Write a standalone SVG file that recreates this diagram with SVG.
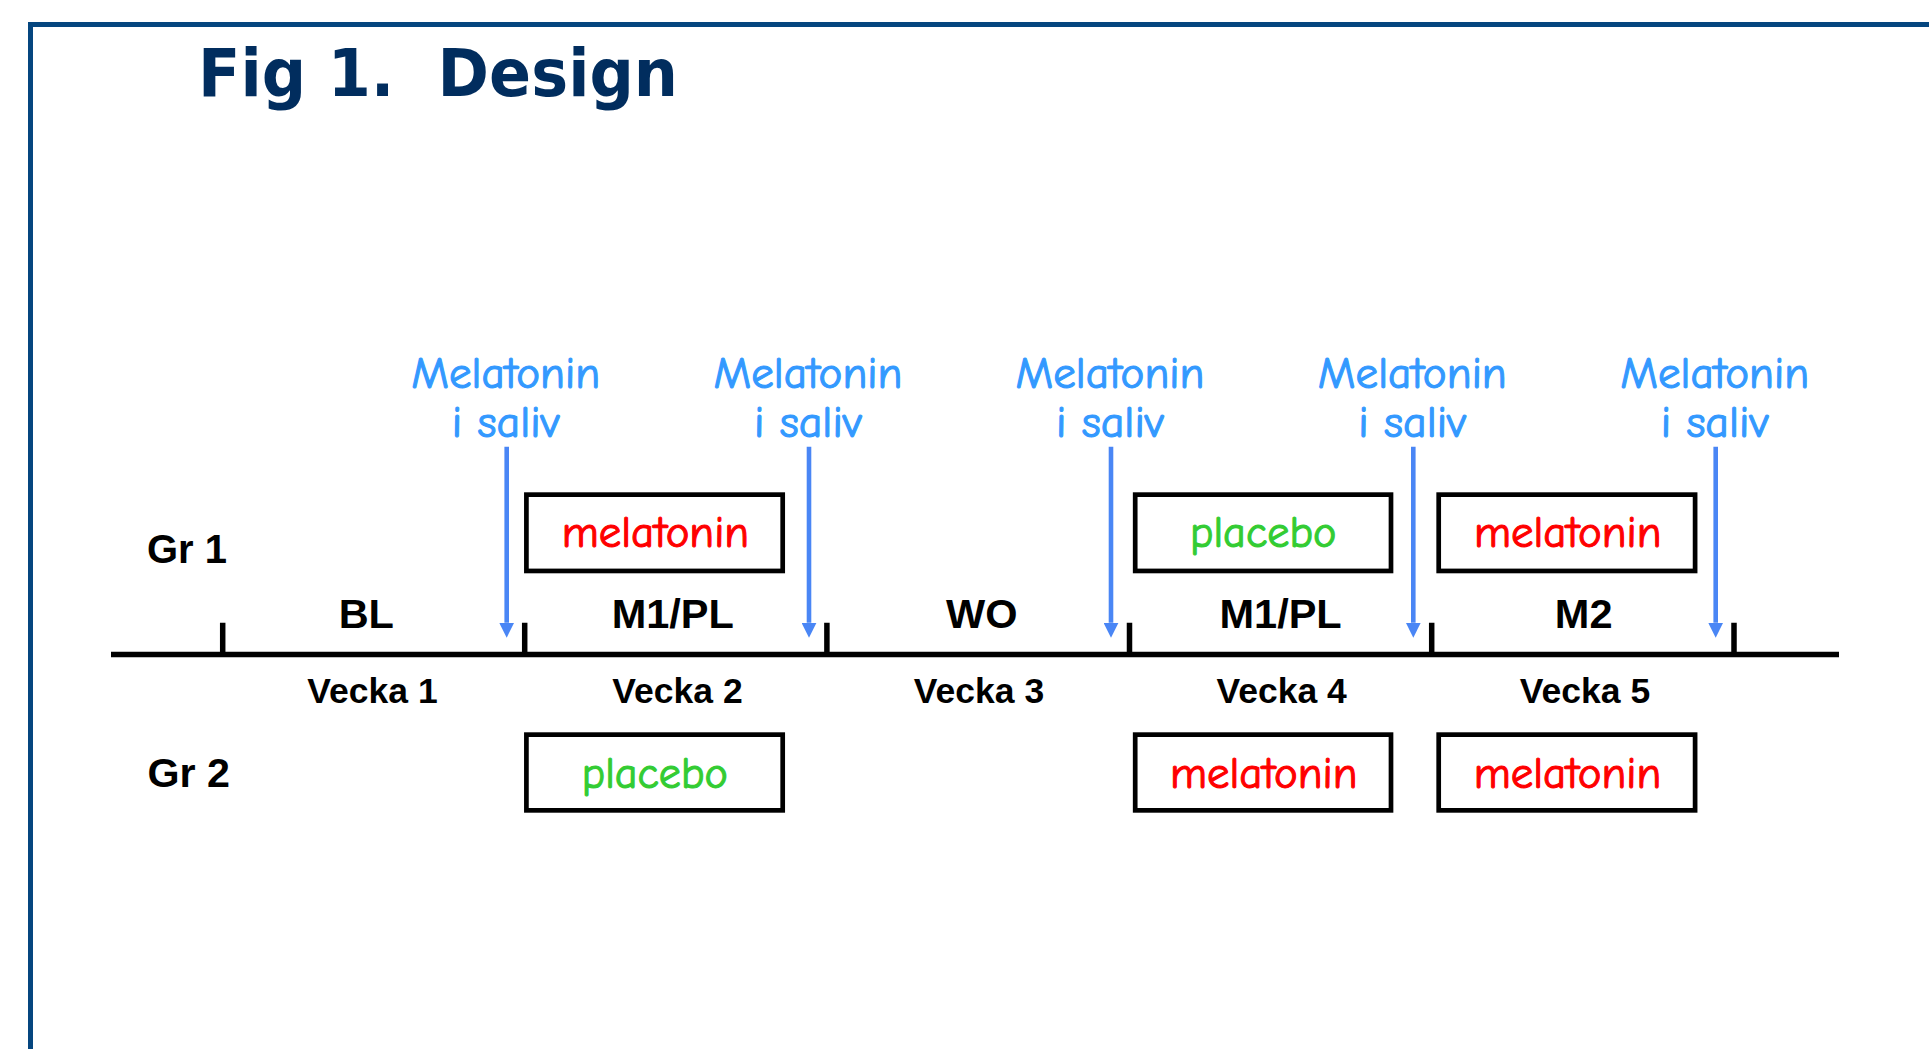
<svg xmlns="http://www.w3.org/2000/svg" width="1929" height="1049" viewBox="0 0 1929 1049">
<defs>
<style>
.title{font-family:"DejaVu Sans","Verdana",sans-serif;font-weight:bold;font-size:65px;fill:#012D5E;white-space:pre}
.grp{font-family:"Liberation Sans",Arial,sans-serif;font-weight:bold;font-size:41px;fill:#000}
.phase{font-family:"Liberation Sans",Arial,sans-serif;font-weight:bold;font-size:41.5px;fill:#000;text-anchor:middle}
.week{font-family:"Liberation Sans",Arial,sans-serif;font-weight:bold;font-size:35.5px;fill:#000;text-anchor:middle}
.hand{font-family:"Comic Sans MS","Comic Neue","Noto Sans",sans-serif;font-size:44px;text-anchor:middle;stroke-width:1.1}
.sal{fill:#3399FF;stroke:#3399FF}
.mel{fill:#FF0000;stroke:#FF0000}
.pla{fill:#33CC33;stroke:#33CC33}
.box{fill:#fff;stroke:#000;stroke-width:4.7}
.arrow{stroke:#4A86F5;stroke-width:4.6;fill:none;marker-end:url(#ah)}
.tick{stroke:#000;stroke-width:5.5;fill:none}
</style>
<marker id="ah" markerUnits="userSpaceOnUse" markerWidth="15" markerHeight="15" refX="0" refY="7.5" orient="auto">
<path d="M0,0 L15,7.5 L0,15 Z" fill="#4A86F5"/>
</marker>
</defs>
<rect width="1929" height="1049" fill="#fff"/>
<path d="M30.5,1060 V24.5 H1940" fill="none" stroke="#05467F" stroke-width="5"/>
<text class="title" x="198" y="96" textLength="480" lengthAdjust="spacingAndGlyphs">Fig 1.  Design</text>

<g id="axis">
<path class="tick" d="M111,654.5 H1839" stroke-width="5.7"/>
<path class="tick" d="M222.7,622.7 V654 M524.7,622.7 V654 M826.9,622.7 V654 M1129.5,622.7 V654 M1431.7,622.7 V654 M1734,622.7 V654"/>
</g>

<g id="group-labels">
<text class="grp" x="147" y="563.3" textLength="80" lengthAdjust="spacingAndGlyphs">Gr 1</text>
<text class="grp" x="147.4" y="787.3" textLength="82.5" lengthAdjust="spacingAndGlyphs">Gr 2</text>
</g>

<g id="phase-labels">
<text class="phase" x="366.3" y="627.5">BL</text>
<text class="phase" x="672.8" y="627.5">M1/PL</text>
<text class="phase" x="981.7" y="627.5">WO</text>
<text class="phase" x="1280.6" y="627.5">M1/PL</text>
<text class="phase" x="1583.7" y="627.5">M2</text>
</g>

<g id="week-labels">
<text class="week" x="372.5" y="702.7">Vecka 1</text>
<text class="week" x="677.5" y="702.7">Vecka 2</text>
<text class="week" x="979" y="702.7">Vecka 3</text>
<text class="week" x="1281.7" y="702.7">Vecka 4</text>
<text class="week" x="1585" y="702.7">Vecka 5</text>
</g>

<g id="saliva-labels">
<g id="sal1"><text class="hand sal" x="505.7" y="387.5" textLength="189" lengthAdjust="spacingAndGlyphs">Melatonin</text><text class="hand sal" x="505.8" y="437.3" textLength="108" lengthAdjust="spacingAndGlyphs">i saliv</text></g>
<g id="sal2"><text class="hand sal" x="808" y="387.5" textLength="189" lengthAdjust="spacingAndGlyphs">Melatonin</text><text class="hand sal" x="808" y="437.3" textLength="108" lengthAdjust="spacingAndGlyphs">i saliv</text></g>
<g id="sal3"><text class="hand sal" x="1110" y="387.5" textLength="189" lengthAdjust="spacingAndGlyphs">Melatonin</text><text class="hand sal" x="1110" y="437.3" textLength="108" lengthAdjust="spacingAndGlyphs">i saliv</text></g>
<g id="sal4"><text class="hand sal" x="1412.3" y="387.5" textLength="189" lengthAdjust="spacingAndGlyphs">Melatonin</text><text class="hand sal" x="1412.3" y="437.3" textLength="108" lengthAdjust="spacingAndGlyphs">i saliv</text></g>
<g id="sal5"><text class="hand sal" x="1714.7" y="387.5" textLength="189" lengthAdjust="spacingAndGlyphs">Melatonin</text><text class="hand sal" x="1714.7" y="437.3" textLength="108" lengthAdjust="spacingAndGlyphs">i saliv</text></g>
</g>

<g id="connectors">
<path class="arrow" d="M506.7,446.7 V622.7"/>
<path class="arrow" d="M809,446.7 V622.7"/>
<path class="arrow" d="M1111,446.7 V622.7"/>
<path class="arrow" d="M1413.3,446.7 V622.7"/>
<path class="arrow" d="M1715.7,446.7 V622.7"/>
</g>

<g id="gr1-box-week2"><rect class="box" x="526.4" y="494.65" width="256.3" height="76.3"/><text class="hand mel" x="655.4" y="547.3" textLength="187.5" lengthAdjust="spacingAndGlyphs">melatonin</text></g>
<g id="gr1-box-week4"><rect class="box" x="1135.2" y="494.65" width="255.8" height="76.3"/><text class="hand pla" x="1263.2" y="547.3" textLength="146.5" lengthAdjust="spacingAndGlyphs">placebo</text></g>
<g id="gr1-box-week5"><rect class="box" x="1438.7" y="494.65" width="256.4" height="76.3"/><text class="hand mel" x="1567.7" y="547.3" textLength="187.5" lengthAdjust="spacingAndGlyphs">melatonin</text></g>
<g id="gr2-box-week2"><rect class="box" x="526.4" y="734.65" width="256.3" height="75.7"/><text class="hand pla" x="654.8" y="788.3" textLength="146" lengthAdjust="spacingAndGlyphs">placebo</text></g>
<g id="gr2-box-week4"><rect class="box" x="1135.2" y="734.65" width="255.8" height="75.7"/><text class="hand mel" x="1263.7" y="788.3" textLength="187.5" lengthAdjust="spacingAndGlyphs">melatonin</text></g>
<g id="gr2-box-week5"><rect class="box" x="1438.7" y="734.65" width="256.4" height="75.7"/><text class="hand mel" x="1567.5" y="788.3" textLength="187.5" lengthAdjust="spacingAndGlyphs">melatonin</text></g>
</svg>
